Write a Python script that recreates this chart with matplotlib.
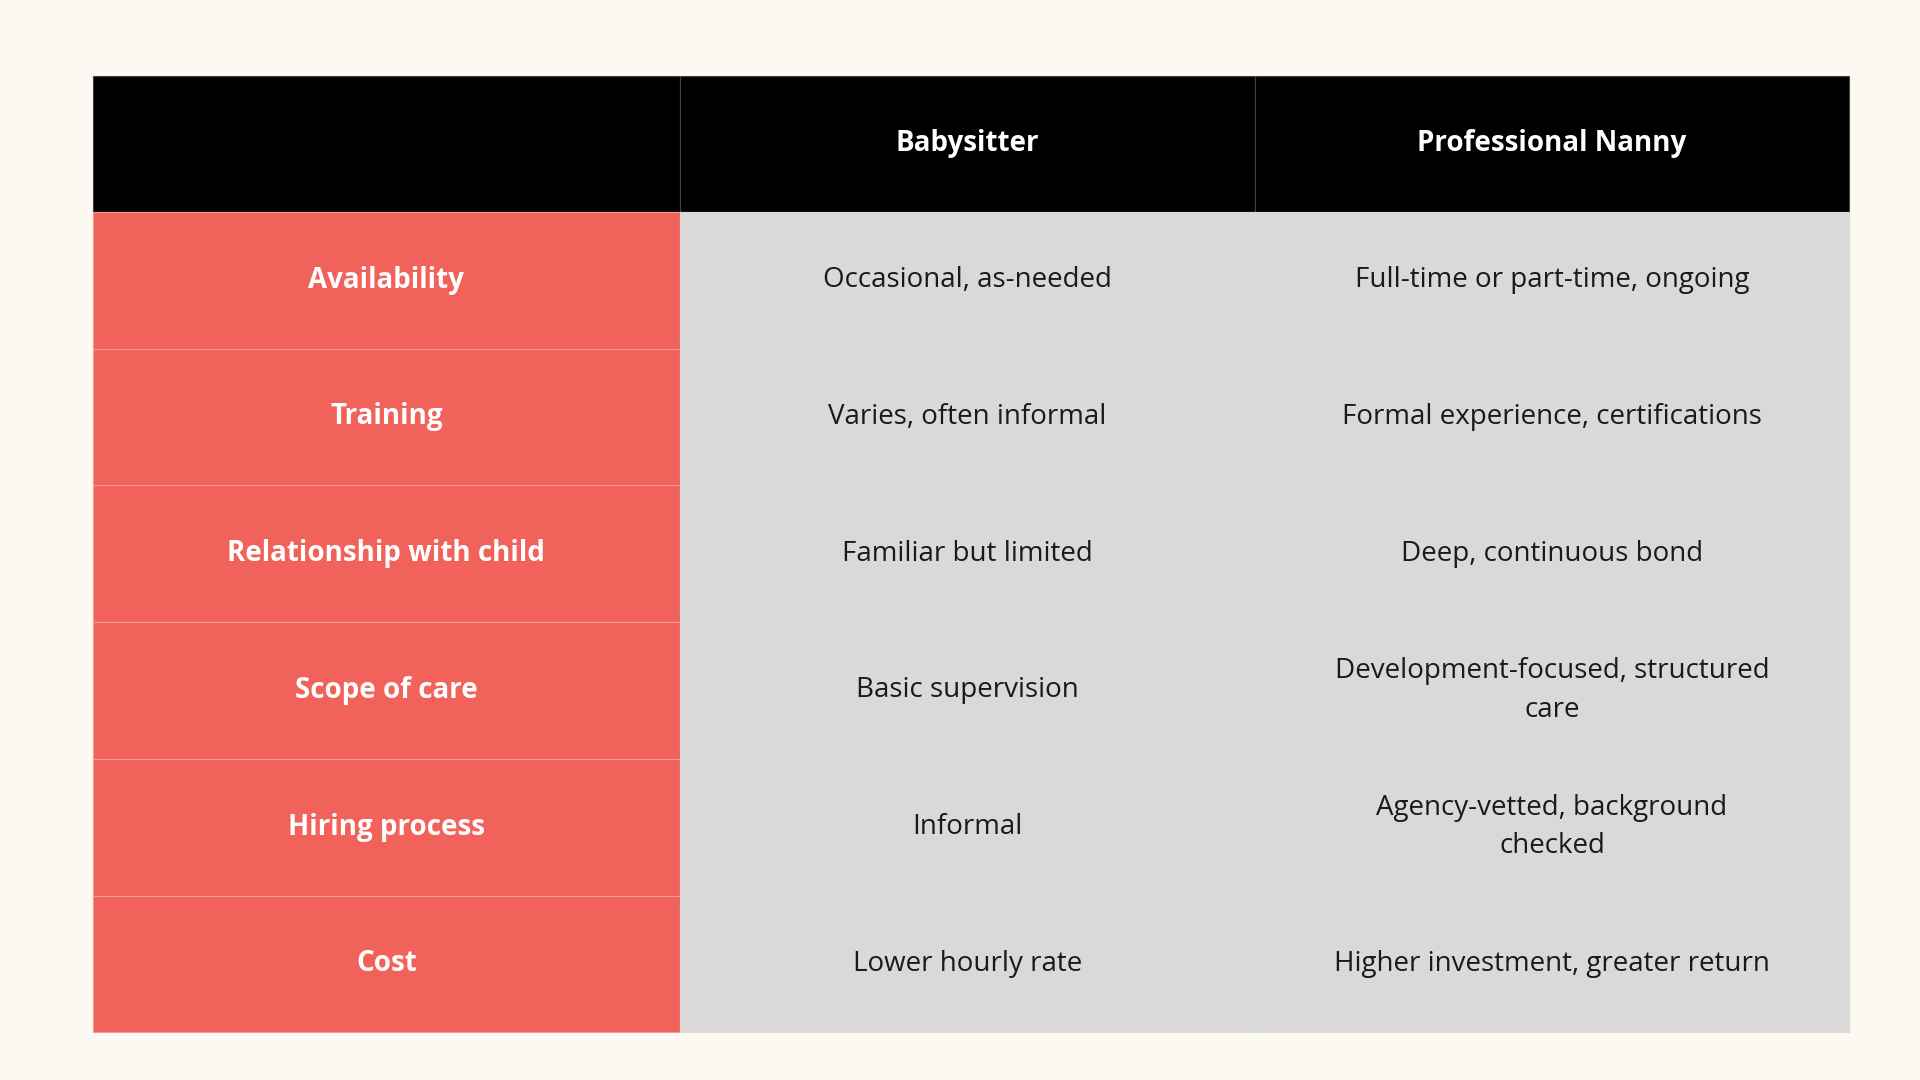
import matplotlib
matplotlib.use("Agg")
import matplotlib.pyplot as plt
from matplotlib.patches import Rectangle

columns = ["", "Babysitter", "Professional Nanny"]
features = ["Availability", "Training", "Relationship with child", "Scope of care", "Hiring process", "Cost"]
babysitter = ["Occasional, as-needed", "Varies, often informal", "Familiar but limited",
              "Basic supervision", "Informal", "Lower hourly rate"]
nanny = ["Full-time or part-time, ongoing", "Formal experience, certifications", "Deep, continuous bond",
         "Development-focused, structured\ncare", "Agency-vetted, background\nchecked",
         "Higher investment, greater return"]

plt.rcParams['font.family'] = ['Open Sans', 'DejaVu Sans']
fig = plt.figure(figsize=(19.2, 10.8), dpi=100, facecolor="#fdf8f2")
ax = fig.add_axes([0, 0, 1, 1])
ax.set_xlim(0, 1568); ax.set_ylim(882, 0); ax.axis("off")

xs = [76, 555, 1025, 1510]
top, hdr = 62, 173
nrows = len(features)
rh = (843 - hdr) / nrows

# header
for i in range(3):
    ax.add_patch(Rectangle((xs[i], top), xs[i+1]-xs[i], hdr-top, fc="black", ec="#444444", lw=0.8))
    ax.text((xs[i]+xs[i+1])/2, (top+hdr)/2, columns[i], color="white", fontsize=20,
            fontweight="bold", ha="center", va="center")

cols = [features, babysitter, nanny]
for r in range(nrows):
    y0 = hdr + r*rh
    for c in range(3):
        if c == 0:
            fc, ec, tc, fw = "#f0625a", "#f59a94", "white", "bold"
        else:
            fc, ec, tc, fw = "#d9d9d9", "#d9d9d9", "#1a1a1a", "normal"
        ax.add_patch(Rectangle((xs[c], y0), xs[c+1]-xs[c], rh, fc=fc, ec=ec, lw=0.8))
        ax.text((xs[c]+xs[c+1])/2, y0+rh/2, cols[c][r], color=tc, fontsize=20,
                fontweight=fw, ha="center", va="center", linespacing=1.5)

fig.savefig("out.png", dpi=100, facecolor=fig.get_facecolor())
